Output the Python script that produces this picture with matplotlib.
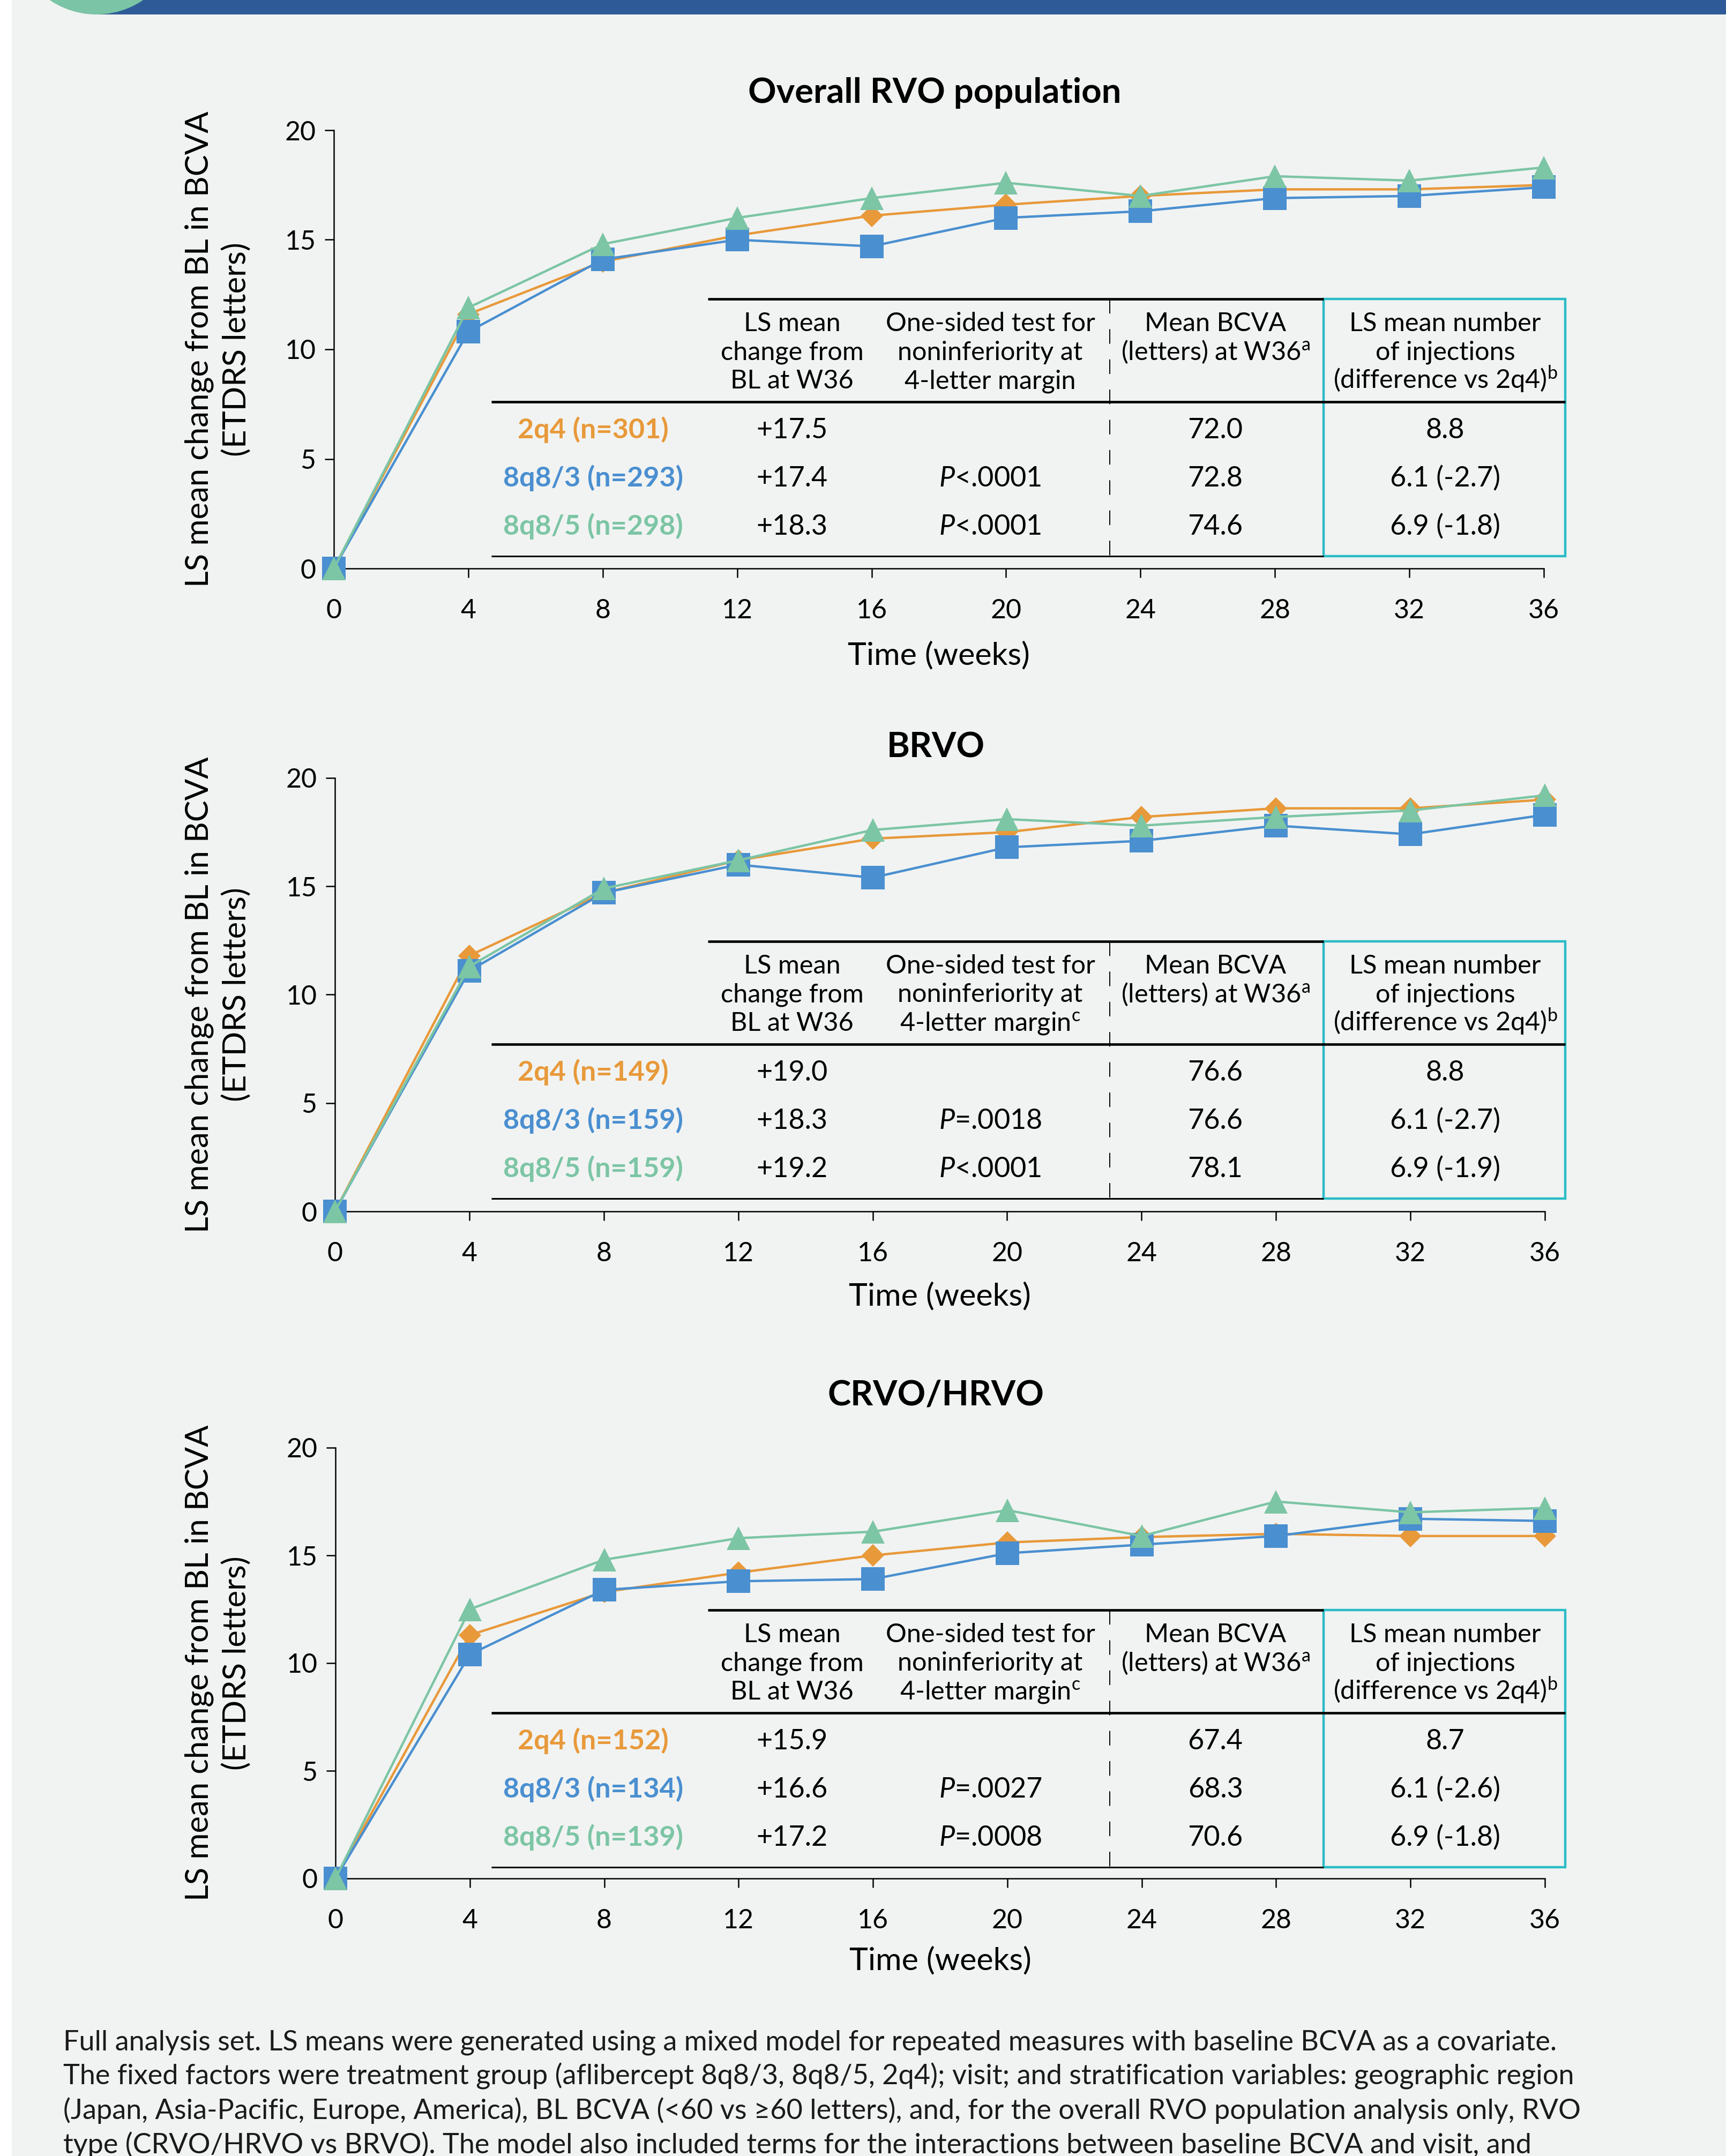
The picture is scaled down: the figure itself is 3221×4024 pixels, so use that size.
import matplotlib.pyplot as plt
import matplotlib.transforms as mtransforms
from matplotlib.lines import Line2D
from matplotlib.patches import Rectangle, Circle

plt.rcParams['font.family'] = ['Lato', 'DejaVu Sans']
plt.rcParams['mathtext.fontset'] = 'custom'
plt.rcParams['mathtext.rm'] = 'Lato'
plt.rcParams['mathtext.it'] = 'Lato:italic'
plt.rcParams['mathtext.bf'] = 'Lato:bold'

# LS mean change from baseline in BCVA (letters) by visit week
weeks = [0, 4, 8, 12, 16, 20, 24, 28, 32, 36]

overall_2q4 = [0, 11.6, 14.0, 15.2, 16.1, 16.6, 17.0, 17.3, 17.3, 17.5]
overall_8q8_3 = [0, 10.8, 14.1, 15.0, 14.7, 16.0, 16.3, 16.9, 17.0, 17.4]
overall_8q8_5 = [0, 11.9, 14.8, 16.0, 16.9, 17.6, 17.0, 17.9, 17.7, 18.3]

brvo_2q4 = [0, 11.8, 14.7, 16.2, 17.2, 17.5, 18.2, 18.6, 18.6, 19.0]
brvo_8q8_3 = [0, 11.1, 14.7, 16.0, 15.4, 16.8, 17.1, 17.8, 17.4, 18.3]
brvo_8q8_5 = [0, 11.3, 14.9, 16.2, 17.6, 18.1, 17.8, 18.2, 18.5, 19.2]

crvo_2q4 = [0, 11.3, 13.3, 14.2, 15.0, 15.6, 15.85, 16.0, 15.9, 15.9]
crvo_8q8_3 = [0, 10.4, 13.4, 13.8, 13.9, 15.1, 15.5, 15.9, 16.7, 16.6]
crvo_8q8_5 = [0, 12.5, 14.8, 15.8, 16.1, 17.1, 15.9, 17.5, 17.0, 17.2]

# table contents per population
overall_groups = ['2q4 (n=301)', '8q8/3 (n=293)', '8q8/5 (n=298)']
overall_change = ['+17.5', '+17.4', '+18.3']
overall_pvals = ['', '$P$<.0001', '$P$<.0001']
overall_bcva = ['72.0', '72.8', '74.6']
overall_inj = ['8.8', '6.1 (-2.7)', '6.9 (-1.8)']

brvo_groups = ['2q4 (n=149)', '8q8/3 (n=159)', '8q8/5 (n=159)']
brvo_change = ['+19.0', '+18.3', '+19.2']
brvo_pvals = ['', '$P$=.0018', '$P$<.0001']
brvo_bcva = ['76.6', '76.6', '78.1']
brvo_inj = ['8.8', '6.1 (-2.7)', '6.9 (-1.9)']

crvo_groups = ['2q4 (n=152)', '8q8/3 (n=134)', '8q8/5 (n=139)']
crvo_change = ['+15.9', '+16.6', '+17.2']
crvo_pvals = ['', '$P$=.0027', '$P$=.0008']
crvo_bcva = ['67.4', '68.3', '70.6']
crvo_inj = ['8.7', '6.1 (-2.6)', '6.9 (-1.8)']

titles = ['Overall RVO population', 'BRVO', 'CRVO/HRVO']
xticks = [0, 4, 8, 12, 16, 20, 24, 28, 32, 36]
yticks = [0, 5, 10, 15, 20]

footnote = [
    'Full analysis set. LS means were generated using a mixed model for repeated measures with baseline BCVA as a covariate.',
    'The fixed factors were treatment group (aflibercept 8q8/3, 8q8/5, 2q4); visit; and stratification variables: geographic region',
    '(Japan, Asia-Pacific, Europe, America), BL BCVA (<60 vs \u226560 letters), and, for the overall RVO population analysis only, RVO',
    'type (CRVO/HRVO vs BRVO). The model also included terms for the interactions between baseline BCVA and visit, and',
]

ORANGE = '#e8993a'
BLUE = '#4a8fd0'
GREEN = '#7cc5a5'
TEAL = '#2bbcc6'
NAVY = '#2e5b98'
BG = '#f1f3f2'

W, H = 3221, 4024
fig = plt.figure(figsize=(W / 100, H / 100), dpi=100)
fig.patch.set_facecolor(BG)
# pixel coordinates measured from the top-left corner
px = mtransforms.Affine2D().scale(1, -1).translate(0, H)

fig.add_artist(Rectangle((0, 0), 22, H, transform=px, color='white', lw=0))
fig.add_artist(Rectangle((180, 0), W - 180, 27, transform=px, color=NAVY, lw=0))
fig.add_artist(Circle((180, -128), 155, transform=px, color='#7bc4a5', lw=0))

panels = [
    dict(top=243, bottom=1061, x0=623, x1=2881, title_y=192, time_y=1224, table=558,
         series=(overall_2q4, overall_8q8_3, overall_8q8_5),
         rows=(overall_groups, overall_change, overall_pvals, overall_bcva, overall_inj), margin_note=False),
    dict(top=1452, bottom=2261, x0=625, x1=2883, title_y=1414, time_y=2420, table=1757,
         series=(brvo_2q4, brvo_8q8_3, brvo_8q8_5),
         rows=(brvo_groups, brvo_change, brvo_pvals, brvo_bcva, brvo_inj), margin_note=True),
    dict(top=2702, bottom=3506, x0=626, x1=2883, title_y=2622, time_y=3660, table=3005,
         series=(crvo_2q4, crvo_8q8_3, crvo_8q8_5),
         rows=(crvo_groups, crvo_change, crvo_pvals, crvo_bcva, crvo_inj), margin_note=True),
]

styles = [(ORANGE, 'D', 21), (BLUE, 's', 31), (GREEN, '^', 31)]


def hline(x0, x1, y, lw, color='black'):
    fig.add_artist(Line2D([x0, x1], [y, y], transform=px, color=color, lw=lw, solid_capstyle='butt'))


for i, p in enumerate(panels):
    ax = fig.add_axes([p['x0'] / W, 1 - p['bottom'] / H,
                       (p['x1'] - p['x0']) / W, (p['bottom'] - p['top']) / H])
    ax.set_facecolor('none')
    for k, (vals, (c, m, ms)) in enumerate(zip(p['series'], styles)):
        ax.plot(weeks, vals, color=c, lw=3.2, marker=m, markersize=ms,
                markeredgewidth=0, clip_on=False, zorder=3 + k)
    ax.set_xlim(0, 36)
    ax.set_ylim(0, 20)
    ax.set_xticks(xticks)
    ax.set_yticks(yticks)
    for s in ['top', 'right']:
        ax.spines[s].set_visible(False)
    for s in ['left', 'bottom']:
        ax.spines[s].set_linewidth(1.8)
    ax.tick_params(length=12, width=1.8, labelsize=36)
    ax.tick_params(axis='x', pad=28)
    ax.tick_params(axis='y', pad=12)

    cx = (p['x0'] + p['x1']) / 2
    fig.text(cx - 8, p['title_y'], titles[i], transform=px, ha='center', va='baseline',
             fontsize=47, fontweight='bold')
    fig.text(cx, p['time_y'], 'Time (weeks)', transform=px, ha='center', va='center', fontsize=42.5)
    cy = (p['top'] + p['bottom']) / 2
    fig.text(372, cy, 'LS mean change from BL in BCVA', transform=px, rotation=90,
             ha='center', va='center', fontsize=43)
    fig.text(441, cy, '(ETDRS letters)', transform=px, rotation=90,
             ha='center', va='center', fontsize=43)

    # summary table drawn over the lower right of the plot
    T = p['table']
    hline(1321, 2470, T, 3.4)
    hline(917, 2921, T + 192, 3.4)
    hline(917, 2470, T + 480, 2.2)
    fig.add_artist(Rectangle((2470, T), 451, 480, transform=px, fill=False,
                             edgecolor=TEAL, lw=3.2))
    fig.add_artist(Line2D([2071, 2071], [T, T + 480], transform=px, color='black',
                          lw=1.4, linestyle=(0, (14, 15))))

    note_c = '$^{\\mathrm{c}}$' if p['margin_note'] else ''
    headers = [
        (1478, ['LS mean', 'change from', 'BL at W36']),
        (1848, ['One-sided test for', 'noninferiority at', '4-letter margin' + note_c]),
        (2268, ['Mean BCVA', '(letters) at W36$^{\\mathrm{a}}$']),
        (2697, ['LS mean number', 'of injections', '(difference vs 2q4)$^{\\mathrm{b}}$']),
    ]
    for hx, lines in headers:
        for j, line in enumerate(lines):
            fig.text(hx, T + 60 + 53.5 * j, line, transform=px, ha='center',
                     va='baseline', fontsize=35)

    groups, change, pvals, bcva, inj = p['rows']
    for r in range(3):
        yb = T + 260 + 90 * r
        fig.text(1107, yb, groups[r], transform=px, ha='center', va='baseline',
                 fontsize=37.5, fontweight='bold', color=styles[r][0])
        fig.text(1478, yb, change[r], transform=px, ha='center', va='baseline', fontsize=37.5)
        if pvals[r]:
            fig.text(1848, yb, pvals[r], transform=px, ha='center', va='baseline', fontsize=37.5)
        fig.text(2268, yb, bcva[r], transform=px, ha='center', va='baseline', fontsize=37.5)
        fig.text(2697, yb, inj[r], transform=px, ha='center', va='baseline', fontsize=37.5)

for j, line in enumerate(footnote):
    fig.text(118, 3827 + 64 * j, line, transform=px, ha='left', va='baseline',
             fontsize=37.6, color='#1a1a1a')

fig.savefig('out.png', dpi=100, facecolor=BG)
